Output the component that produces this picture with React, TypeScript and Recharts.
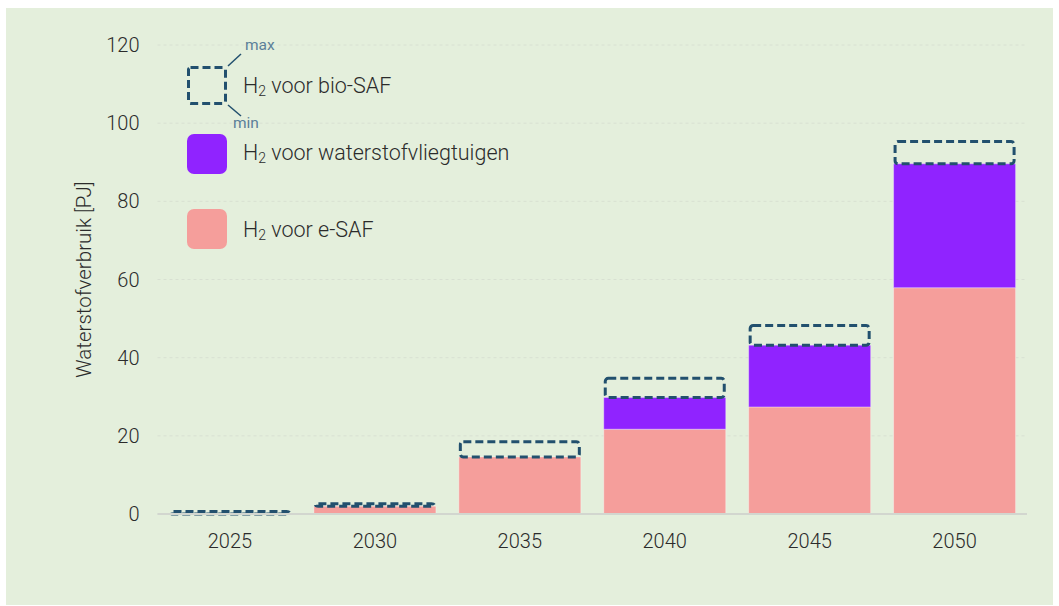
import * as React from "react";
import { Bar, BarChart, CartesianGrid, XAxis, YAxis } from "recharts";

const years = ["2025", "2030", "2035", "2040", "2045", "2050"];
const eSaf = [0, 2, 14.6, 21.7, 27.4, 57.9];
const waterstof = [0, 0, 0, 8.1, 15.8, 31.7];
const bioMax = [1, 3, 18.9, 35.1, 48.6, 95.7];
const yTicks = [0, 20, 40, 60, 80, 100, 120];

const PINK = "#f59e9b";
const PURPLE = "#9023ff";
const DASH = "#22506e";
const FONT = "Roboto, sans-serif";

const data = years.map((year, i) => ({
  year,
  eSaf: eSaf[i],
  waterstof: waterstof[i],
  bio: +(bioMax[i] - eSaf[i] - waterstof[i]).toFixed(2),
}));

// dashed outline for the bio-SAF min-max range
function DashedBox(props: any) {
  const { x, y, width, height } = props;
  if (width == null || height == null) return null;
  return (
    <rect
      x={x + 1.5}
      y={y + 1.5}
      width={width - 3}
      height={Math.max(height - 1.5, 1)}
      rx={3}
      fill="none"
      stroke={DASH}
      strokeWidth={3}
      strokeDasharray="8 4"
    />
  );
}

const legendText: React.CSSProperties = {
  position: "absolute",
  fontSize: 21.5,
  fontWeight: 300,
  color: "#2b2b2b",
  fontFamily: FONT,
  lineHeight: "24px",
  whiteSpace: "nowrap",
};

function H2({ children }: { children: string }) {
  return (
    <>
      H<sub style={{ fontSize: 14, verticalAlign: "-3px" }}>2</sub> {children}
    </>
  );
}

export default function App() {
  return (
    <div style={{ position: "absolute", left: 0, top: 0, width: 1059, height: 606, background: "#ffffff", fontFamily: FONT }}>
      <div style={{ position: "absolute", left: 6, top: 8, width: 1047, height: 597, background: "#e4efdc" }}>
        <BarChart
          width={1047}
          height={597}
          data={data}
          margin={{ top: 37, right: 26, left: 51.5, bottom: 51 }}
          barCategoryGap={11.5}
        >
          <CartesianGrid vertical={false} stroke="#d8e0d2" strokeDasharray="3 3" />
          <XAxis
            dataKey="year"
            height={40}
            tickLine={false}
            axisLine={{ stroke: "#d2d6cf", strokeWidth: 2 }}
            tick={{ fontSize: 20, fontWeight: 300, fill: "#2b2b2b", fontFamily: FONT }}
            tickMargin={14}
          />
          <YAxis
            width={100}
            domain={[0, 120]}
            ticks={yTicks}
            tickLine={false}
            axisLine={false}
            tick={{ fontSize: 20, fontWeight: 300, fill: "#2b2b2b", fontFamily: FONT }}
            tickMargin={12}
            label={{
              value: "Waterstofverbruik [PJ]",
              angle: -90,
              position: "insideLeft",
              offset: 26,
              style: { fontSize: 20.5, fontWeight: 300, fill: "#2b2b2b", fontFamily: FONT, textAnchor: "middle" },
            }}
          />
          <Bar dataKey="eSaf" stackId="a" fill={PINK} stroke="rgba(255,255,255,0.35)" isAnimationActive={false} />
          <Bar dataKey="waterstof" stackId="a" fill={PURPLE} stroke="rgba(255,255,255,0.35)" isAnimationActive={false} />
          <Bar dataKey="bio" stackId="a" shape={DashedBox} isAnimationActive={false} />
        </BarChart>

        {/* legend */}
        <svg style={{ position: "absolute", left: 0, top: 0 }} width={300} height={260}>
          <rect x={182.5} y={59.5} width={37} height={36} rx={2} fill="none" stroke={DASH} strokeWidth={3} strokeDasharray="8 4" />
          <line x1={222} y1={58} x2={235} y2={46} stroke={DASH} strokeWidth={1.5} />
          <line x1={222} y1={97} x2={235} y2={108} stroke={DASH} strokeWidth={1.5} />
          <text x={239} y={42} fontSize={15.5} fill="#5b7f99" fontFamily={FONT}>max</text>
          <text x={227} y={120} fontSize={15.5} fill="#5b7f99" fontFamily={FONT}>min</text>
          <rect x={181} y={126} width={40} height={40} rx={7} fill={PURPLE} />
          <rect x={181} y={201} width={40} height={40} rx={7} fill={PINK} />
        </svg>
        <div style={{ ...legendText, left: 237, top: 66 }}><H2>voor bio-SAF</H2></div>
        <div style={{ ...legendText, left: 237, top: 133 }}><H2>voor waterstofvliegtuigen</H2></div>
        <div style={{ ...legendText, left: 237, top: 210 }}><H2>voor e-SAF</H2></div>
      </div>
    </div>
  );
}
